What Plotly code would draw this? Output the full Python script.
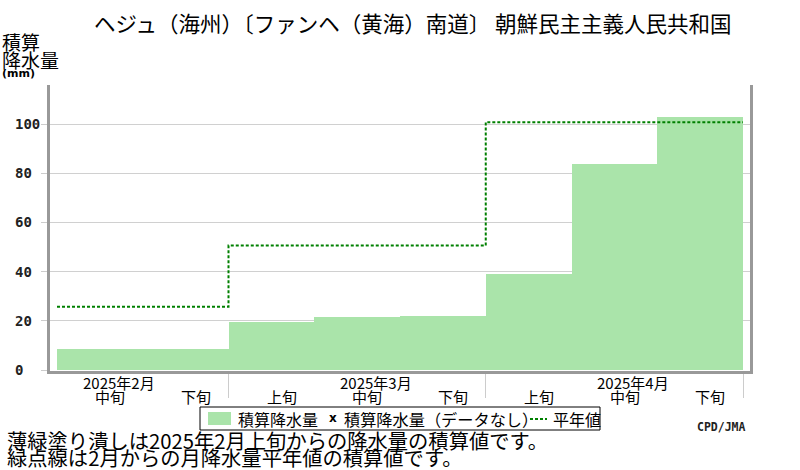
import plotly.graph_objects as go

# =========================================
# DATOS
# =========================================

dekads = ["中旬", "下旬", "上旬", "中旬", "下旬", "上旬", "中旬", "下旬"]
months = ["2025年2月", "2025年3月", "2025年4月"]
month_idx = [0, 3, 6]          # decena sobre la que va la etiqueta del mes
month_bounds = [2, 5, 8]       # fin de cada mes (en decenas)

cum_precip = [8.7, 8.7, 19.6, 21.5, 22.0, 39.1, 83.7, 102.8]
cum_normal = [25.7, 25.7, 50.6, 50.6, 50.6, 100.8, 100.8, 100.8]

y_ticks = [0, 20, 40, 60, 80, 100]

title = "ヘジュ（海州）〔ファンヘ（黄海）南道〕 朝鮮民主主義人民共和国"
notes = [
    "薄緑塗り潰しは2025年2月上旬からの降水量の積算値です。",
    "緑点線は2月からの月降水量平年値の積算値です。",
]

# =========================================
# GEOMETRÍA
# =========================================

W, H = 800, 470
L, R, T, B = 50, 50, 85, 99

def fx(px):
    return (px - L) / (W - L - R)

def fy(py):
    return (H - B - py) / (H - T - B)

JP = "Noto Sans CJK JP"
GREEN_FILL = "#aae4aa"
GREEN_LINE = "#008000"

# =========================================
# GRAFICAR
# =========================================

fig = go.Figure()

fig.add_trace(go.Bar(
    x=[i + 0.5 for i in range(len(cum_precip))],
    y=cum_precip,
    width=1,
    marker=dict(color=GREEN_FILL, line=dict(width=0)),
    name="積算降水量",
    showlegend=False,
))

fig.add_trace(go.Scatter(
    x=list(range(len(cum_normal) + 1)),
    y=cum_normal + [cum_normal[-1]],
    mode="lines",
    line=dict(color=GREEN_LINE, width=2, dash="3px,2px", shape="hv"),
    name="平年値",
    showlegend=False,
))

ann = []

# título
ann.append(dict(x=fx(92), y=fy(22), xref="paper", yref="paper", text=title,
                showarrow=False, xanchor="left", yanchor="middle",
                font=dict(family=JP, size=21.5, color="#000")))

# título eje Y
for txt, py in [("積算", 42), ("降水量", 59)]:
    ann.append(dict(x=fx(0), y=fy(py), xref="paper", yref="paper", text=txt,
                    showarrow=False, xanchor="left", yanchor="middle",
                    font=dict(family=JP, size=19, color="#000")))
ann.append(dict(x=fx(0), y=fy(73), xref="paper", yref="paper", text="(mm)",
                showarrow=False, xanchor="left", yanchor="middle",
                font=dict(family="DejaVu Sans", size=11, color="#000", weight="bold")))

# etiquetas eje Y (alineadas a la izquierda)
for v in y_ticks:
    ann.append(dict(x=fx(13), y=v, xref="paper", yref="y", text=str(v),
                    showarrow=False, xanchor="left", yanchor="middle",
                    font=dict(family="DejaVu Sans Mono", size=14, color="#222", weight="bold")))

# etiquetas eje X
for i, d in enumerate(dekads):
    ann.append(dict(x=i + 0.62, y=0, xref="x", yref="paper", text=d,
                    showarrow=False, xanchor="center", yanchor="middle", yshift=-25,
                    font=dict(family=JP, size=15, color="#000")))
for m, i in zip(months, month_idx):
    ann.append(dict(x=i + 0.72, y=0, xref="x", yref="paper", text=m,
                    showarrow=False, xanchor="center", yanchor="middle", yshift=-11,
                    font=dict(family=JP, size=15, color="#000")))

# leyenda manual
ly = 418.5
ann.append(dict(x=fx(236), y=fy(ly), xref="paper", yref="paper", text="積算降水量",
                showarrow=False, xanchor="left", yanchor="middle",
                font=dict(family=JP, size=16, color="#000")))
ann.append(dict(x=fx(333), y=fy(ly - 1), xref="paper", yref="paper", text="x",
                showarrow=False, xanchor="center", yanchor="middle",
                font=dict(family="DejaVu Sans", size=12, color="#000", weight="bold")))
ann.append(dict(x=fx(342), y=fy(ly), xref="paper", yref="paper", text="積算降水量（データなし）",
                showarrow=False, xanchor="left", yanchor="middle",
                font=dict(family=JP, size=16.2, color="#000")))
ann.append(dict(x=fx(551), y=fy(ly), xref="paper", yref="paper", text="平年値",
                showarrow=False, xanchor="left", yanchor="middle",
                font=dict(family=JP, size=16, color="#000")))

ann.append(dict(x=fx(748), y=fy(427), xref="paper", yref="paper", text="CPD/JMA",
                showarrow=False, xanchor="right", yanchor="middle",
                font=dict(family="DejaVu Sans Mono", size=11.5, color="#222", weight="bold")))

# notas
for txt, py in zip(notes, [440, 457]):
    ann.append(dict(x=fx(5), y=fy(py), xref="paper", yref="paper", text=txt,
                    showarrow=False, xanchor="left", yanchor="middle",
                    font=dict(family=JP, size=20.3, color="#000")))

shapes = [
    dict(type="rect", xref="paper", yref="paper",
         x0=fx(200), x1=fx(600), y0=fy(407), y1=fy(430),
         line=dict(color="#000", width=1), fillcolor="white", layer="below"),
    dict(type="rect", xref="paper", yref="paper",
         x0=fx(208), x1=fx(231), y0=fy(412), y1=fy(425),
         line=dict(width=0), fillcolor=GREEN_FILL),
    dict(type="line", xref="paper", yref="paper",
         x0=fx(530), x1=fx(547), y0=fy(419), y1=fy(419),
         line=dict(color=GREEN_LINE, width=2, dash="3px,2px")),
]

fig.update_layout(
    width=W, height=H,
    margin=dict(l=L, r=R, t=T, b=B),
    plot_bgcolor="white",
    paper_bgcolor="white",
    bargap=0,
    showlegend=False,
    annotations=ann,
    shapes=shapes,
)

fig.update_xaxes(
    range=[-7 / 85.75, 8 + 7 / 85.75],
    showgrid=False, zeroline=False,
    showline=True, linewidth=3, linecolor="#999",
    tickvals=month_bounds, ticks="outside", ticklen=24, tickwidth=1, tickcolor="#ccc",
    showticklabels=False,
)

fig.update_yaxes(
    range=[-0.4, 115.9],
    tickvals=y_ticks, showticklabels=False,
    ticks="outside", ticklen=6, tickcolor="#ccc",
    showgrid=True, gridcolor="#d0d0d0", gridwidth=1, zeroline=False,
    showline=True, linewidth=3, linecolor="#999", mirror=True,
)

fig.write_html("out.html", config={"displayModeBar": False},
               post_script="document.body.style.margin='0';")
